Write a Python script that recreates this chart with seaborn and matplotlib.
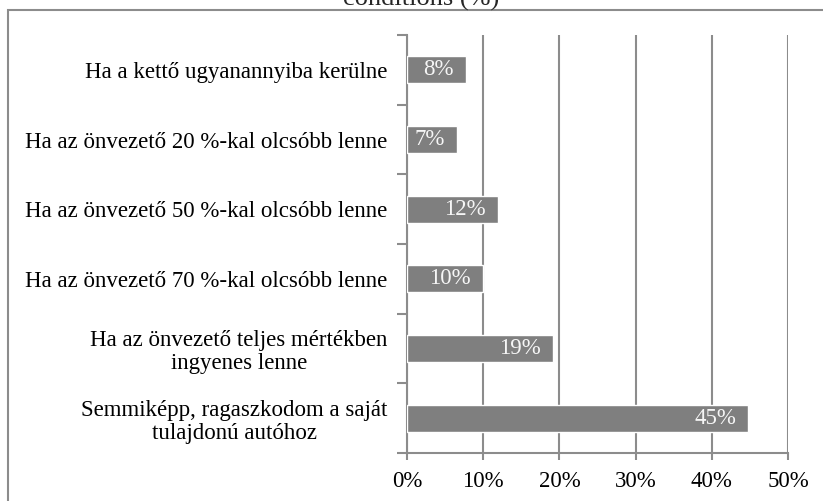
import matplotlib
matplotlib.use("Agg")
import matplotlib.pyplot as plt
from matplotlib.patches import Rectangle
from matplotlib.ticker import FixedLocator, FuncFormatter
import seaborn as sns

# data
categories = [
    "Ha a kettő ugyanannyiba kerülne",
    "Ha az önvezető 20 %-kal olcsóbb lenne",
    "Ha az önvezető 50 %-kal olcsóbb lenne",
    "Ha az önvezető 70 %-kal olcsóbb lenne",
    "Ha az önvezető teljes mértékben\ningyenes lenne",
    "Semmiképp, ragaszkodom a saját\ntulajdonú autóhoz",
]
shares = [7.7, 6.6, 11.9, 10.0, 19.2, 44.8]
x_ticks = [0, 10, 20, 30, 40, 50]
title_tail = "conditions (%)"

BAR = "#7f7f7f"
LINE = "#8c8c8c"
W, H = 823, 501
FS = 16.5

sns.set_theme(style="white")
plt.rcParams["font.family"] = ["Liberation Serif", "DejaVu Serif"]

fig = plt.figure(figsize=(W / 100, H / 100), dpi=100)
ax = fig.add_axes([407 / W, 1 - 453 / H, (788 - 407) / W, (453 - 35) / H])

sns.barplot(x=shares, y=categories, orient="h", color=BAR, saturation=1,
            width=0.39, ax=ax, zorder=3)

for i, v in enumerate(shares):
    ax.annotate(f"{v:.0f}%", (v, i), xytext=(-9, 0), textcoords="offset points",
                ha="right", va="center", color="#f6f6f6", fontsize=FS, zorder=4)

ax.set_xlim(0, 50)
ax.set_ylim(len(categories) - 0.5, -0.5)
ax.xaxis.set_major_locator(FixedLocator(x_ticks))
ax.xaxis.set_major_formatter(FuncFormatter(lambda x, pos: f"{x:.0f}%"))
ax.grid(axis="x", color=LINE, linewidth=1.5, zorder=0)
ax.grid(axis="y", visible=False)

# excel style ticks between categories
ax.yaxis.set_minor_locator(FixedLocator([k - 0.5 for k in range(len(categories) + 1)]))
ax.tick_params(axis="y", which="major", length=0, pad=14, labelsize=FS, labelcolor="black")
ax.tick_params(axis="y", which="minor", length=7, width=1.5, color=LINE, left=True)
ax.tick_params(axis="x", which="major", length=5, width=1.5, color=LINE, bottom=True,
               pad=8, labelsize=FS, labelcolor="black")
for lbl in ax.get_yticklabels():
    lbl.set_multialignment("center")
    lbl.set_linespacing(1.12)

for side in ["top", "right"]:
    ax.spines[side].set_visible(False)
for side in ["left", "bottom"]:
    ax.spines[side].set_color(LINE)
    ax.spines[side].set_linewidth(1.5)
ax.set_xlabel("")
ax.set_ylabel("")

# outer chart frame, cropped by the image
fig.patches.append(Rectangle((8 / W, -0.2), 1.2, 1.2 - 10 / H, transform=fig.transFigure,
                             fill=False, edgecolor=LINE, linewidth=1.5))
fig.text(421 / W, 1 - 6 / H, title_tail, ha="center", va="baseline", fontsize=19)

fig.savefig("out.png", dpi=100, facecolor="white")
